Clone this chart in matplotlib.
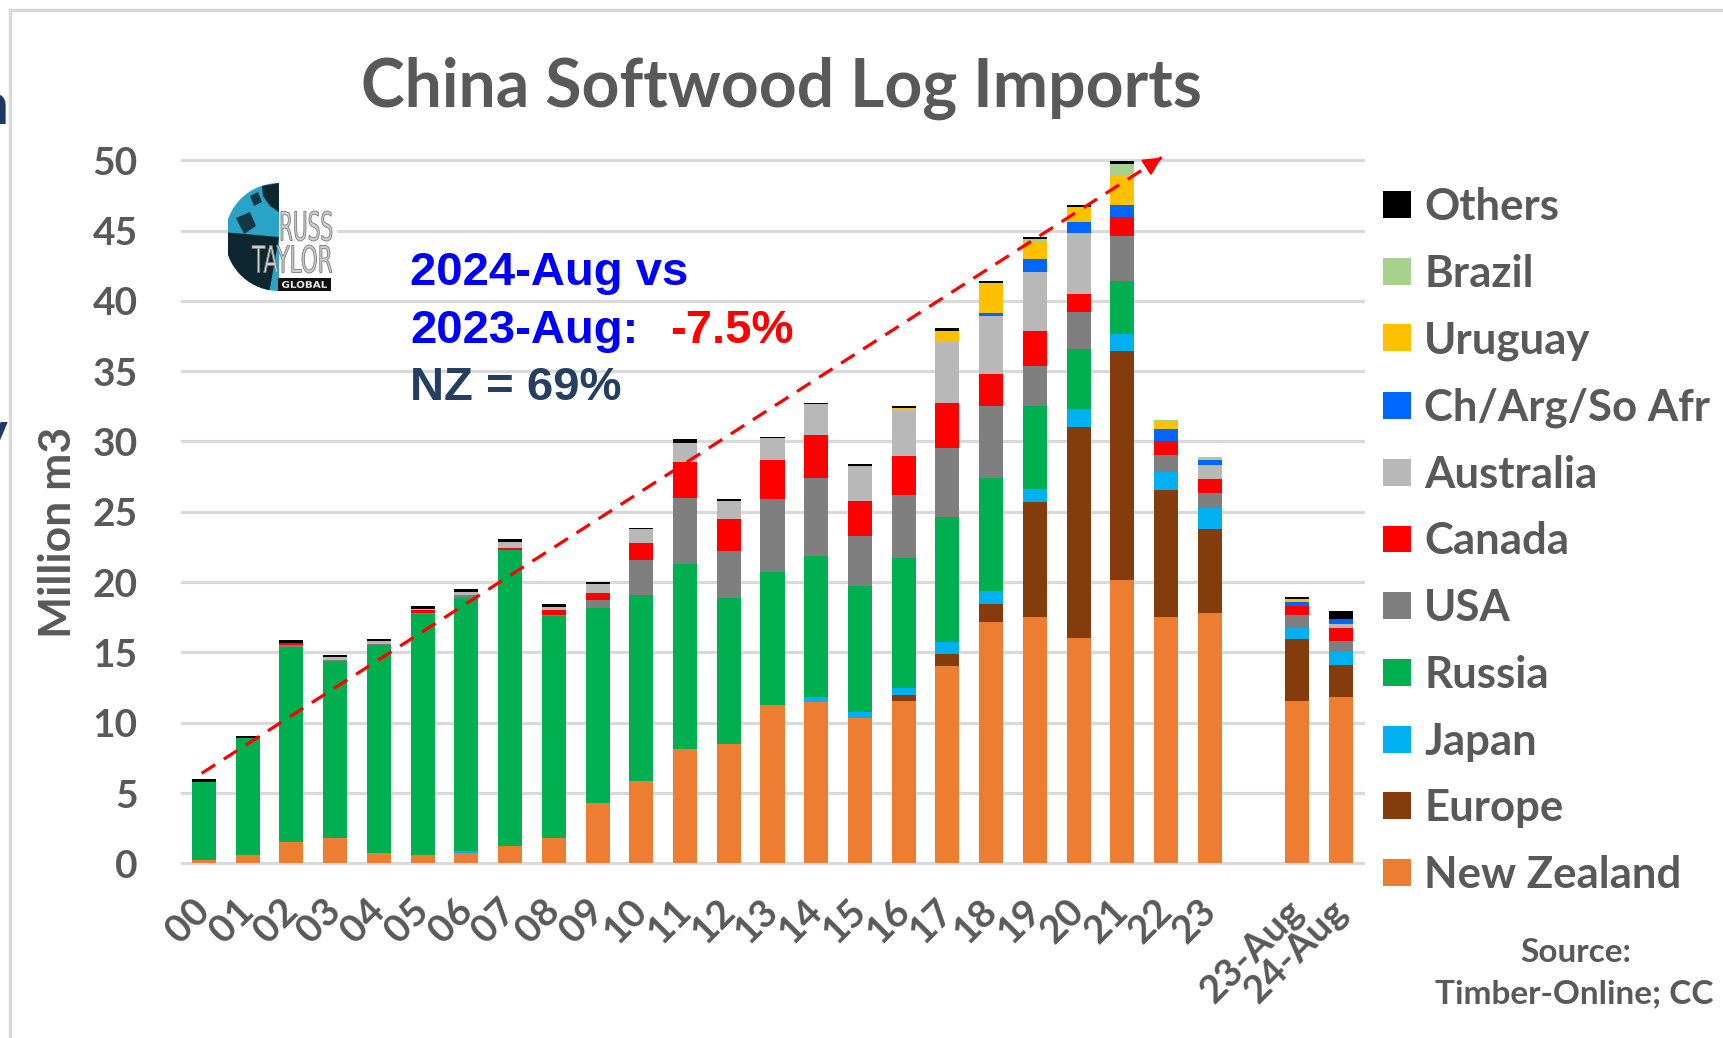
import matplotlib
matplotlib.use('Agg')
import matplotlib.pyplot as plt
import numpy as np
from matplotlib.patches import Wedge, Rectangle, PathPatch, Polygon
from matplotlib.textpath import TextPath
from matplotlib.font_manager import FontProperties
from matplotlib.transforms import Affine2D
from matplotlib.lines import Line2D

plt.rcParams['font.family'] = ['Lato', 'DejaVu Sans']
plt.rcParams['font.weight'] = 'bold'

# ---------------- data ----------------
categories = ['00', '01', '02', '03', '04', '05', '06', '07', '08', '09', '10', '11',
              '12', '13', '14', '15', '16', '17', '18', '19', '20', '21', '22', '23',
              '', '23-Aug', '24-Aug']

new_zealand = [0.25, 0.6, 1.5, 1.8, 0.7, 0.6, 0.75, 1.2, 1.8, 4.3, 5.85, 8.15, 8.5, 11.25,
               11.5, 10.3, 11.55, 14.05, 17.13, 17.55, 16.0, 20.15, 17.5, 17.8, 0, 11.55, 11.85]
europe = [0, 0, 0, 0, 0, 0, 0, 0, 0, 0, 0, 0, 0, 0, 0, 0,
          0.45, 0.86, 1.34, 8.15, 15.05, 16.3, 9.05, 6.0, 0, 4.4, 2.25]
japan = [0, 0, 0, 0, 0, 0, 0.15, 0, 0, 0, 0, 0, 0, 0, 0.3, 0.47, 0.48, 0.8, 0.92, 0.92,
         1.25, 1.2, 1.25, 1.45, 0, 0.8, 1.0]
russia = [5.55, 8.3, 13.9, 12.6, 14.8, 17.1, 18.0, 21.05, 15.8, 13.85, 13.25, 13.13, 10.35,
          9.45, 10.07, 8.93, 9.25, 8.9, 8.0, 5.88, 4.3, 3.75, 0, 0, 0, 0, 0]
usa = [0, 0, 0.1, 0.05, 0.1, 0.1, 0.15, 0, 0.05, 0.6, 2.45, 4.73, 3.35, 5.2, 5.51, 3.55,
       4.47, 4.95, 5.1, 2.9, 2.6, 3.25, 1.25, 1.1, 0, 0.9, 0.7]
canada = [0, 0, 0.2, 0, 0, 0.2, 0, 0.15, 0.4, 0.45, 1.25, 2.5, 2.3, 2.75, 3.08, 2.5, 2.78,
          3.2, 2.32, 2.48, 1.3, 1.35, 0.95, 1.0, 0, 0.65, 0.95]
australia = [0, 0, 0, 0.2, 0.2, 0.1, 0.25, 0.45, 0.2, 0.65, 0.95, 1.39, 1.25, 1.58, 2.18,
             2.5, 3.26, 4.33, 4.15, 4.15, 4.3, 0, 0, 0.95, 0, 0, 0.3]
ch_arg_so_afr = [0, 0, 0, 0, 0, 0, 0, 0, 0, 0, 0, 0, 0, 0, 0, 0, 0, 0,
                 0.17, 0.95, 0.8, 0.8, 0.9, 0.35, 0, 0.3, 0.3]
uruguay = [0, 0, 0, 0, 0, 0, 0, 0, 0, 0, 0, 0, 0, 0, 0, 0,
           0.13, 0.75, 2.13, 1.3, 1.0, 2.05, 0.55, 0.12, 0, 0.18, 0]
brazil = [0, 0, 0, 0, 0, 0, 0, 0, 0, 0, 0, 0, 0, 0, 0, 0, 0, 0, 0,
          0.1, 0.1, 0.9, 0.07, 0.12, 0, 0, 0]
others = [0.2, 0.15, 0.15, 0.2, 0.15, 0.2, 0.2, 0.2, 0.2, 0.15, 0.1, 0.26, 0.13, 0.12, 0.13,
          0.13, 0.13, 0.2, 0.17, 0.14, 0.12, 0.2, 0, 0.03, 0, 0.14, 0.6]

series_names = ['New Zealand', 'Europe', 'Japan', 'Russia', 'USA', 'Canada', 'Australia',
                'Ch/Arg/So Afr', 'Uruguay', 'Brazil', 'Others']
series_values = [new_zealand, europe, japan, russia, usa, canada, australia,
                 ch_arg_so_afr, uruguay, brazil, others]
series_colors = ['#ED7D31', '#843C0C', '#00B0F0', '#00B050', '#7F7F7F', '#FF0000',
                 '#B8B8B8', '#0066FF', '#FFC000', '#A9D18E', '#000000']

trend_start = (-0.05, 6.4)
trend_end = (21.9, 50.2)

# ---------------- figure ----------------
W, H = 1724, 1038
fig = plt.figure(figsize=(W / 100, H / 100), dpi=100)
fig.patch.set_facecolor('white')

ax = fig.add_axes([182 / W, 1 - 863.3 / H, (1363 - 182) / W, (863.3 - 160.3) / H])

x = np.arange(len(categories))
bottom = np.zeros(len(x))
containers = []
for name, vals, col in zip(series_names, series_values, series_colors):
    v = np.array(vals, dtype=float)
    c = ax.bar(x, v, width=0.55, bottom=bottom, color=col, linewidth=0, zorder=3, label=name)
    bottom += v
    containers.append(c)

ax.set_xlim(-0.5, len(x) - 0.5)
ax.set_ylim(0, 50)
ax.set_yticks(np.arange(0, 51, 5))
ax.yaxis.grid(True, color='#D9D9D9', lw=2.3, zorder=0)
ax.set_axisbelow(True)
for gl in ax.get_ygridlines():
    gl.set_clip_on(False)
for s in ax.spines.values():
    s.set_visible(False)
ax.tick_params(axis='both', length=0)
ax.tick_params(axis='y', labelsize=28, labelcolor='#595959', pad=32)
ax.set_xticks(x)
ax.set_xticklabels(categories, rotation=45, ha='right', va='center',
                   rotation_mode='anchor', fontsize=28, color='#595959')
ax.tick_params(axis='x', pad=30)

# trend arrow
ax.plot([trend_start[0], trend_end[0]], [trend_start[1], trend_end[1]],
        color='#FF0000', lw=2.3, dashes=(5, 3.2), zorder=5, clip_on=False)
fx = trend_start[0] + (trend_end[0] - trend_start[0]) * 0.985
fy = trend_start[1] + (trend_end[1] - trend_start[1]) * 0.985
ax.annotate('', xy=trend_end, xytext=(fx, fy),
            arrowprops=dict(arrowstyle='-|>', color='#FF0000', lw=1.5,
                            mutation_scale=28, shrinkA=0, shrinkB=0),
            annotation_clip=False, zorder=6)

# title
fig.text(781 / W, 1 - 107 / H, 'China Softwood Log Imports', ha='center', va='baseline',
         fontsize=47.5, color='#595959', weight='bold')

# y label
fig.text(58 / W, 1 - 532 / H, 'Million m3', rotation=90, ha='center', va='center',
         fontsize=32, color='#595959', weight='bold')

# annotation
arial = ['Liberation Sans', 'DejaVu Sans']
fig.text(410 / W, 1 - 285 / H, '2024-Aug vs', family=arial, weight='bold', fontsize=34,
         color='#0000FF', va='baseline')
fig.text(410 / W, 1 - 343 / H, '2023-Aug:', family=arial, weight='bold', fontsize=34,
         color='#0000FF', va='baseline')
fig.text(670 / W, 1 - 343 / H, '-7.5%', family=arial, weight='bold', fontsize=34,
         color='#FF0000', va='baseline')
fig.text(410 / W, 1 - 400 / H, 'NZ = 69%', family=arial, weight='bold', fontsize=34,
         color='#243F60', va='baseline')

# legend
leg = fig.legend(handles=containers[::-1], labels=series_names[::-1], loc='upper left',
                 bbox_to_anchor=(1383 / W, 1 - 187 / H), frameon=False, fontsize=31.5,
                 handlelength=0.64, handleheight=0.57, handletextpad=0.3,
                 labelspacing=0.61, borderpad=0, borderaxespad=0, labelcolor='#595959')

# source
fig.text(1576 / W, 1 - 962 / H, 'Source:', ha='center', va='baseline', fontsize=24,
         color='#595959', weight='bold')
fig.text(1574 / W, 1 - 1003 / H, 'Timber-Online; CC', ha='center', va='baseline',
         fontsize=24, color='#595959', weight='bold')

# frame lines and cut-off slide text (cut at the left edge as in the source slide)
fig.add_artist(Line2D([10 / W, 10 / W], [0, 1 - 10 / H], color='#D9D9D9', lw=2.5))
fig.add_artist(Line2D([10 / W, 1], [1 - 10 / H, 1 - 10 / H], color='#D9D9D9', lw=2.5))
fig.text(8 / W, 1 - 124 / H, 'n', ha='right', va='baseline', fontsize=42, weight='bold',
         color='#203864')
fig.text(8 / W, 1 - 452 / H, 'y', ha='right', va='baseline', fontsize=42, weight='bold',
         color='#203864')

# logo
lx0, lx1, ly0, ly1 = 228, 337, 178, 294
lax = fig.add_axes([lx0 / W, 1 - ly1 / H, (lx1 - lx0) / W, (ly1 - ly0) / H], zorder=4)
lax.set_xlim(lx0, lx1)
lax.set_ylim(ly1, ly0)
lax.set_xticks([])
lax.set_yticks([])
for s in lax.spines.values():
    s.set_visible(False)
lax.set_facecolor('white')
# y axis is inverted here: angles 90..270 still give the left half-disk
lax.add_patch(Wedge((279, 237), 54, 90, 270, facecolor='#29A3C6', edgecolor='none'))
lax.add_patch(Wedge((279, 237), 54, 100, 185, facecolor='#0E2630', edgecolor='none'))
lax.add_patch(Polygon([[262, 186], [279, 183], [279, 212], [270, 206], [263, 196]],
                      closed=True, facecolor='#0E2630', edgecolor='none'))
lax.add_patch(Polygon([[236, 218], [250, 212], [256, 226], [244, 234]],
                      closed=True, facecolor='#123845', edgecolor='none'))
lax.add_patch(Polygon([[250, 196], [258, 192], [262, 202], [254, 206]],
                      closed=True, facecolor='#123845', edgecolor='none'))


def put_text(s, x0, x1, ytop, ybot, fc, ec, family='DejaVu Sans', weight='normal'):
    tp = TextPath((0, 0), s, size=10, prop=FontProperties(family=family, weight=weight))
    bb = tp.get_extents()
    tr = (Affine2D().translate(-bb.x0, -bb.y0)
          .scale((x1 - x0) / bb.width, -(ybot - ytop) / bb.height)
          .translate(x0, ybot))
    lax.add_patch(PathPatch(tr.transform_path(tp), facecolor=fc, edgecolor=ec, lw=0.6))


put_text('RUSS', 281, 332, 211, 241, '#d0d0d0', '#777777')
put_text('TAYLOR', 252, 332, 245, 273, '#d0d0d0', '#777777')
lax.add_patch(Rectangle((278, 278), 53, 13, facecolor='#111111', edgecolor='none'))
put_text('GLOBAL', 282, 327, 281, 288, '#e8e8e8', 'none', weight='bold')

fig.savefig('out.png', dpi=100, facecolor='white')
